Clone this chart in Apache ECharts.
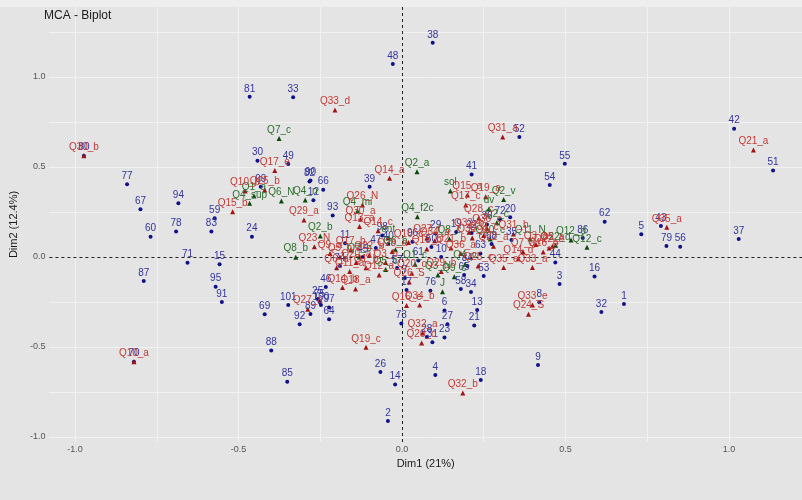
<!DOCTYPE html>
<html>
<head>
<meta charset="utf-8">
<title>MCA - Biplot</title>
<script src="https://cdn.jsdelivr.net/npm/echarts@6/dist/echarts.min.js"></script>
<style>
  html, body { margin: 0; padding: 0; background: #E4E4E4; }
  #chart { width: 802px; height: 500px; }
</style>
</head>
<body>
<div id="chart"></div>
<script>
// Axis ranges, tick labels and gridline positions (Dim1 / Dim2)
const xRange = [-1.0785, 1.2236];
const yRange = [-1.028, 1.389];
const tickValues = [-1.0, -0.5, 0.0, 0.5, 1.0];
const xGrid = [-1.0, -0.75, -0.5, -0.25, 0.25, 0.5, 0.75, 1.0];
const yGrid = [-1.0, -0.75, -0.5, -0.25, 0.25, 0.5, 0.75, 1.0, 1.25];

// Individuals: [Dim1, Dim2, id]
const individuals = [
  [0.679, -0.261, '1'], [-0.043, -0.911, '2'], [0.482, -0.15, '3'], [0.102, -0.656, '4'],
  [0.732, 0.126, '5'], [0.13, -0.298, '6'], [0.009, -0.117, '7'], [0.42, -0.252, '8'],
  [0.416, -0.60, '9'], [0.12, 0.0, '10'], [-0.174, 0.076, '11'], [-0.271, 0.315, '12'],
  [0.23, -0.294, '13'], [-0.021, -0.709, '14'], [-0.558, -0.041, '15'], [0.589, -0.109, '16'],
  [0.014, -0.183, '17'], [0.241, -0.683, '18'], [0.166, 0.139, '19'], [0.331, 0.221, '20'],
  [0.221, -0.381, '21'], [0.213, 0.133, '22'], [0.13, -0.448, '23'], [-0.459, 0.113, '24'],
  [-0.258, -0.233, '25'], [-0.066, -0.639, '26'], [0.139, -0.374, '27'], [0.076, -0.444, '28'],
  [0.103, 0.131, '29'], [-0.442, 0.535, '30'], [0.093, -0.474, '31'], [0.61, -0.306, '32'],
  [-0.333, 0.887, '33'], [0.211, -0.194, '34'], [0.335, 0.094, '35'], [0.26, 0.18, '36'],
  [1.03, 0.10, '37'], [0.094, 1.19, '38'], [-0.099, 0.39, '39'], [-0.042, 0.072, '40'],
  [0.213, 0.459, '41'], [1.016, 0.713, '42'], [0.792, 0.172, '43'], [0.469, -0.03, '44'],
  [-0.12, 0.0, '45'], [-0.233, -0.167, '46'], [-0.08, 0.05, '47'], [-0.028, 1.072, '48'],
  [-0.348, 0.517, '49'], [0.09, 0.056, '50'], [1.135, 0.48, '51'], [0.359, 0.667, '52'],
  [0.25, -0.106, '53'], [0.452, 0.40, '54'], [0.498, 0.518, '55'], [0.851, 0.057, '56'],
  [-0.015, -0.061, '57'], [0.18, -0.178, '58'], [-0.573, 0.215, '59'], [-0.769, 0.113, '60'],
  [0.05, -0.02, '61'], [0.62, 0.196, '62'], [0.24, 0.02, '63'], [-0.223, -0.346, '64'],
  [0.19, -0.1, '65'], [-0.241, 0.374, '66'], [-0.80, 0.265, '67'], [0.274, 0.072, '68'],
  [-0.42, -0.318, '69'], [-0.82, -0.582, '70'], [-0.656, -0.032, '71'], [0.3, 0.21, '72'],
  [-0.002, -0.37, '73'], [-0.19, -0.05, '74'], [-0.252, -0.25, '75'], [0.087, -0.187, '76'],
  [-0.841, 0.404, '77'], [-0.691, 0.141, '78'], [0.809, 0.061, '79'], [-0.973, 0.563, '80'],
  [-0.466, 0.89, '81'], [-0.283, 0.42, '82'], [-0.583, 0.141, '83'], [0.2, -0.05, '84'],
  [-0.351, -0.693, '85'], [0.553, 0.105, '86'], [-0.79, -0.133, '87'], [-0.40, -0.52, '88'],
  [-0.28, -0.317, '89'], [-0.28, 0.425, '90'], [-0.551, -0.25, '91'], [-0.313, -0.374, '92'],
  [-0.212, 0.231, '93'], [-0.684, 0.298, '94'], [-0.57, -0.165, '95'], [0.032, 0.085, '96'],
  [-0.223, -0.28, '97'], [-0.06, 0.12, '98'], [-0.432, 0.39, '99'], [-0.248, -0.267, '100'],
  [-0.348, -0.267, '101']
];

// Active variable categories: [Dim1, Dim2, category]
const categories = [
  [-0.973, 0.563, 'Q30_b'], [-0.82, -0.582, 'Q10_a'], [-0.205, 0.817, 'Q33_d'],
  [0.308, 0.667, 'Q31_a'], [1.075, 0.594, 'Q21_a'], [0.81, 0.165, 'Q35_a'],
  [-0.389, 0.48, 'Q17_e'], [-0.038, 0.437, 'Q14_a'], [-0.121, 0.289, 'Q26_N'],
  [-0.127, 0.209, 'Q30_a'], [-0.30, 0.206, 'Q29_a'], [-0.518, 0.252, 'Q15_b'],
  [-0.48, 0.367, 'Q10_b'], [-0.42, 0.372, 'Q25_b'], [0.2, 0.344, 'Q15_a'],
  [0.195, 0.289, 'Q17_c'], [0.256, 0.335, 'Q19_a'], [-0.11, -0.502, 'Q19_c'],
  [0.186, -0.756, 'Q32_b'], [0.399, -0.267, 'Q33_e'], [0.387, -0.318, 'Q24_S'],
  [0.063, -0.422, 'Q32_a'], [0.06, -0.478, 'Q20_d'], [0.014, -0.27, 'Q16_c'],
  [0.054, -0.267, 'Q34_b'], [0.311, -0.059, 'Q35_e'], [0.399, -0.059, 'Q33_a'],
  [0.356, -0.01, 'Q14_d'], [0.233, -0.05, 'Q25_c'], [-0.268, 0.057, 'Q23_N'],
  [-0.157, 0.039, 'Q17_b'], [-0.073, 0.146, 'Q14_c'], [-0.182, -0.17, 'Q14_b'],
  [-0.142, -0.178, 'Q18_a'], [-0.288, -0.29, 'Q27_a'], [0.076, 0.106, 'Q27_f'],
  [0.215, 0.106, 'Q30_d'], [0.341, 0.128, 'Q31_b'], [0.076, 0.044, 'Q13_b'],
  [0.022, -0.139, 'Q26_S'], [0.432, 0.028, 'Q16_b'], [0.235, 0.217, 'Q28_c'],
  [0.205, 0.138, 'Q33_b'], [0.26, 0.16, 'Q36_c'], [-0.22, 0.02, 'Q9_a'],
  [-0.19, 0.0, 'Q5_b'], [-0.14, -0.03, 'Q20_a'], [-0.1, 0.01, 'Q22_b'],
  [-0.2, -0.06, 'Q6_a'], [-0.05, -0.03, 'Q3_b'], [-0.16, -0.08, 'Q11_a'],
  [-0.11, -0.06, 'Q1_b'], [-0.03, 0.03, 'Q28_a'], [-0.13, 0.17, 'Q13_a'],
  [0.02, 0.08, 'Q10_c'], [-0.07, -0.1, 'Q12_a'], [0.03, -0.09, 'Q20_c'],
  [0.15, 0.05, 'Q21_b'], [0.1, 0.09, 'Q34_a'], [0.12, -0.08, 'Q29_b'],
  [0.18, 0.02, 'Q36_a'], [0.28, 0.06, 'Q22_a'], [0.46, 0.06, 'Q5_a'],
  [0.41, 0.07, 'Q3_a'], [0.37, 0.03, 'Q7_a'], [0.25, 0.12, 'Q33_c'],
  [0.45, 0.05, 'Q22_e']
];

// Supplementary categories: [Dim1, Dim2, category]
const supplementary = [
  [-0.376, 0.659, 'Q7_c'], [0.046, 0.474, 'Q2_a'], [0.148, 0.367, 'sol'],
  [0.047, 0.224, 'Q4_f2c'], [0.311, 0.32, 'Q2_v'], [0.266, 0.267, 'dv'],
  [0.392, 0.10, 'Q11_N'], [-0.369, 0.311, 'Q6_N'], [-0.296, 0.317, 'Q4_n'],
  [-0.466, 0.298, 'Q4_sup'], [-0.453, 0.339, 'Q1_a'], [-0.25, 0.117, 'Q2_b'],
  [-0.325, -0.001, 'Q8_b'], [-0.136, 0.256, 'Q4_mi'], [0.566, 0.054, 'Q12_c'],
  [0.517, 0.094, 'Q12_d'], [0.193, -0.04, 'Q4_c'], [0.145, 0.10, 'Q8_c'],
  [0.124, -0.193, 'J'], [-0.042, 0.106, 'ent'], [-0.05, -0.07, 'Q5_c'],
  [0.04, -0.04, 'Q1_c'], [0.11, -0.1, 'Q3_N'], [0.16, -0.11, 'Q9_c'],
  [-0.02, 0.04, 'Q6_b'], [0.27, 0.1, 'Q10_c'], [0.29, 0.19, 'Q2_c'],
  [0.47, 0.065, 'Q22_d'], [-0.13, 0.0, 'Q7_b']
];

const FONT = 'Liberation Sans, Arial, Helvetica, sans-serif';
const fmtTick = v => tickValues.some(t => Math.abs(t - v) < 1e-9) ? v.toFixed(1) : '';

function pointSeries(name, rows, symbol, size, markColor, textColor) {
  return {
    name: name,
    type: 'scatter',
    symbol: symbol,
    symbolSize: size,
    z: 5,
    data: rows.map(r => ({ value: [r[0], r[1]], name: r[2] })),
    itemStyle: { color: markColor, opacity: 1 },
    label: {
      show: true,
      position: 'top',
      distance: 1,
      formatter: p => p.name,
      color: textColor,
      fontSize: 10,
      fontFamily: FONT
    },
    emphasis: { disabled: true },
    animation: false
  };
}

const chart = echarts.init(document.getElementById('chart'), null, { renderer: 'canvas' });
chart.setOption({
  backgroundColor: '#E4E4E4',
  animation: false,
  title: {
    text: 'MCA - Biplot',
    left: 39,
    top: 5,
    textStyle: { fontSize: 12, fontWeight: 'normal', color: '#1a1a1a', fontFamily: FONT }
  },
  graphic: [{
    type: 'rect', left: 0, top: 0, z: -10,
    shape: { width: 802, height: 7 },
    style: { fill: '#EEEEEE' }
  }],
  grid: { left: 40, top: 7, right: 0, bottom: 58 },
  xAxis: {
    type: 'value', min: xRange[0], max: xRange[1],
    name: 'Dim1 (21%)', nameLocation: 'middle', nameGap: 13,
    nameTextStyle: { fontSize: 11, color: '#1a1a1a', fontFamily: FONT },
    axisLine: { show: false },
    axisTick: { show: true, length: 3, lineStyle: { color: '#666' }, customValues: tickValues },
    axisLabel: { customValues: tickValues, formatter: fmtTick, color: '#555', fontSize: 9, margin: 3, fontFamily: FONT },
    splitLine: { show: false }
  },
  yAxis: {
    type: 'value', min: yRange[0], max: yRange[1],
    name: 'Dim2 (12.4%)', nameLocation: 'middle', nameGap: 26, nameRotate: 90,
    nameTextStyle: { fontSize: 11, color: '#1a1a1a', fontFamily: FONT },
    axisLine: { show: false },
    axisTick: { show: true, length: 3, lineStyle: { color: '#666' }, customValues: tickValues },
    axisLabel: { customValues: tickValues, formatter: fmtTick, color: '#555', fontSize: 9, margin: 4, fontFamily: FONT },
    splitLine: { show: false }
  },
  series: [
    {
      // panel gridlines
      type: 'scatter', data: [], silent: true, z: 1,
      markLine: {
        silent: true, symbol: 'none', animation: false,
        label: { show: false },
        lineStyle: { color: '#F1F1F1', width: 1, type: 'solid' },
        emphasis: { disabled: true },
        data: xGrid.map(v => ({ xAxis: v })).concat(yGrid.map(v => ({ yAxis: v })))
      }
    },
    {
      // origin reference lines
      type: 'scatter', data: [], silent: true, z: 2,
      markLine: {
        silent: true, symbol: 'none', animation: false,
        label: { show: false },
        lineStyle: { color: '#222', width: 1, type: [3, 3] },
        emphasis: { disabled: true },
        data: [{ xAxis: 0 }, { yAxis: 0 }]
      }
    },
    pointSeries('Individuals', individuals, 'circle', 4, '#10108A', '#34349C'),
    pointSeries('Supplementary', supplementary, 'triangle', 5, '#0C4A0C', '#2C6E2C'),
    pointSeries('Categories', categories, 'triangle', 5, '#A01414', '#C23A35')
  ]
});
</script>
</body>
</html>
